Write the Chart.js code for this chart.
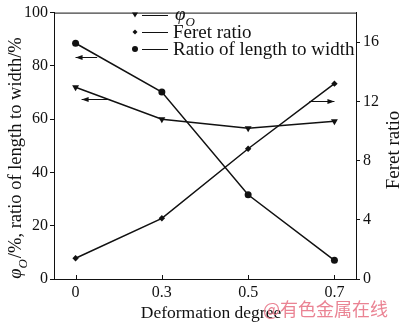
<!DOCTYPE html>
<html>
<head>
<meta charset="utf-8">
<script src="https://cdn.jsdelivr.net/npm/chart.js@4"></script>
<style>
  html, body { margin: 0; padding: 0; background: #fff; }
  #wrap { width: 400px; height: 324px; position: relative; }
</style>
</head>
<body>
<div id="wrap"><canvas id="chart" width="400" height="324"></canvas></div>
<script>
// Data
const xLabels = ['0', '0.3', '0.5', '0.7'];
const phiO = [72, 60, 56.6, 59.2];          // left axis, %
const lengthWidth = [88.5, 70.2, 31.6, 7];  // left axis, %
const feret = [1.4, 4.1, 8.8, 13.2];        // right axis
const leftTicks = [0, 20, 40, 60, 80, 100];
const rightTicks = [0, 4, 8, 12, 16];

// Axis arrows (x in category index, y in axis units)
const arrows = [
  { axis: 'y', y: 83.2, from: 0.25, to: 0.0 },
  { axis: 'y', y: 67.4, from: 0.40, to: 0.07 },
  { axis: 'y1', y: 12, from: 2.71, to: 3.0 }
];

const SERIF = "'Liberation Serif', 'Times New Roman', serif";
const INK = '#111';

const toPoints = (arr) => arr.map((v, i) => ({ x: i, y: v }));

const arrowLine = (ctx, x1, y, x2) => {
  const dir = Math.sign(x2 - x1);
  ctx.beginPath();
  ctx.moveTo(x1, y);
  ctx.lineTo(x2, y);
  ctx.stroke();
  ctx.beginPath();
  ctx.moveTo(x2, y);
  ctx.lineTo(x2 - dir * 7, y - 2.5);
  ctx.lineTo(x2 - dir * 7, y + 2.5);
  ctx.closePath();
  ctx.fill();
};

// draw "φO" + rest, with O as italic subscript
const phiLabel = (ctx, x, y, size, rest) => {
  ctx.font = `italic ${size}px ${SERIF}`;
  ctx.fillText('φ', x, y);
  x += ctx.measureText('φ').width;
  ctx.font = `italic ${Math.round(size * 0.7)}px ${SERIF}`;
  ctx.fillText('O', x, y + size * 0.3);
  x += ctx.measureText('O').width + 1;
  ctx.font = `${size}px ${SERIF}`;
  ctx.fillText(rest, x, y);
};

const phiWidth = (ctx, size, rest) => {
  ctx.font = `italic ${size}px ${SERIF}`;
  let w = ctx.measureText('φ').width;
  ctx.font = `italic ${Math.round(size * 0.7)}px ${SERIF}`;
  w += ctx.measureText('O').width + 1;
  ctx.font = `${size}px ${SERIF}`;
  return w + ctx.measureText(rest).width;
};

const extrasPlugin = {
  id: 'extras',
  afterDraw(chart) {
    const { ctx, chartArea } = chart;
    const { left, right, top, bottom } = chartArea;
    const xs = chart.scales.x;
    ctx.save();
    ctx.strokeStyle = INK;
    ctx.fillStyle = INK;
    ctx.lineWidth = 1;

    // top border
    ctx.beginPath();
    ctx.moveTo(left, top + 0.5);
    ctx.lineTo(right, top + 0.5);
    ctx.stroke();

    // inward x ticks
    xLabels.forEach((_, i) => {
      const px = Math.round(xs.getPixelForValue(i)) + 0.5;
      ctx.beginPath();
      ctx.moveTo(px, bottom);
      ctx.lineTo(px, bottom - 4);
      ctx.stroke();
    });

    // arrows
    arrows.forEach((a) => {
      const y = Math.round(chart.scales[a.axis].getPixelForValue(a.y)) + 0.5;
      arrowLine(ctx, xs.getPixelForValue(a.from), y, xs.getPixelForValue(a.to));
    });

    // legend
    const lx = 135, rows = [15, 32, 49];
    const styles = ['tri', 'dia', 'dot'];
    ctx.textBaseline = 'alphabetic';
    ctx.textAlign = 'left';
    rows.forEach((ry, k) => {
      ctx.beginPath();
      if (styles[k] === 'tri') {
        ctx.moveTo(lx - 3, ry - 2.5);
        ctx.lineTo(lx + 3, ry - 2.5);
        ctx.lineTo(lx, ry + 2.5);
      } else if (styles[k] === 'dia') {
        ctx.moveTo(lx, ry - 2.5);
        ctx.lineTo(lx + 2.5, ry);
        ctx.lineTo(lx, ry + 2.5);
        ctx.lineTo(lx - 2.5, ry);
      } else {
        ctx.arc(lx, ry, 3, 0, Math.PI * 2);
      }
      ctx.closePath();
      ctx.fill();
      ctx.beginPath();
      ctx.moveTo(142, ry + 0.5);
      ctx.lineTo(168, ry + 0.5);
      ctx.stroke();
    });
    phiLabel(ctx, 175, rows[0] + 5, 19, '');
    ctx.font = `19px ${SERIF}`;
    ctx.fillText('Feret ratio', 173, rows[1] + 6);
    ctx.fillText('Ratio of length to width', 173, rows[2] + 6);

    // left axis title (rotated)
    const rest = '/%, ratio of length to width/%';
    const tw = phiWidth(ctx, 18.5, rest);
    ctx.save();
    ctx.translate(21, 158);
    ctx.rotate(-Math.PI / 2);
    phiLabel(ctx, -tw / 2, 0, 18.5, rest);
    ctx.restore();

    // right axis title
    ctx.save();
    ctx.translate(399, 150);
    ctx.rotate(-Math.PI / 2);
    ctx.textAlign = 'center';
    ctx.font = `19px ${SERIF}`;
    ctx.fillText('Feret ratio', 0, 0);
    ctx.restore();

    // x axis title
    ctx.textAlign = 'center';
    ctx.textBaseline = 'middle';
    ctx.font = `17.5px ${SERIF}`;
    ctx.fillText('Deformation degree', 211, 313);

    // watermark
    ctx.textAlign = 'left';
    ctx.fillStyle = 'rgba(232,118,135,0.9)';
    ctx.font = "18px 'Noto Sans CJK SC', sans-serif";
    ctx.fillText('@有色金属在线', 263, 309);
    ctx.restore();
  }
};

const lineSet = (label, data, axis, style, radius, rotation) => ({
  label,
  data: toPoints(data),
  yAxisID: axis,
  borderColor: INK,
  backgroundColor: INK,
  borderWidth: 1.5,
  tension: 0,
  pointStyle: style,
  pointRadius: radius,
  pointRotation: rotation || 0,
  pointBorderWidth: 0
});

new Chart(document.getElementById('chart'), {
  type: 'line',
  data: {
    datasets: [
      lineSet('φO', phiO, 'y', 'triangle', 4, 180),
      lineSet('Feret ratio', feret, 'y1', 'rectRot', 3.2),
      lineSet('Ratio of length to width', lengthWidth, 'y', 'circle', 3.5)
    ]
  },
  options: {
    responsive: false,
    animation: false,
    layout: { padding: { top: 5, left: 0, right: 0, bottom: 0 } },
    plugins: { legend: { display: false }, tooltip: { enabled: false } },
    scales: {
      x: {
        type: 'linear',
        min: -0.25,
        max: 3.25,
        afterBuildTicks: (s) => { s.ticks = xLabels.map((_, i) => ({ value: i })); },
        afterFit: (s) => { s.height = 45; },
        grid: { display: false },
        border: { color: INK, width: 1 },
        ticks: {
          color: INK,
          padding: -4,
          font: { family: SERIF, size: 16 },
          callback: (v) => xLabels[v]
        }
      },
      y: {
        position: 'left',
        min: 0,
        max: 100,
        afterBuildTicks: (s) => { s.ticks = leftTicks.map((v) => ({ value: v })); },
        afterFit: (s) => { s.width = 54; },
        grid: { drawOnChartArea: false, tickLength: 4, color: INK },
        border: { color: INK, width: 1 },
        ticks: { color: INK, padding: 2, font: { family: SERIF, size: 16 } }
      },
      y1: {
        position: 'right',
        min: 0,
        max: 18,
        afterBuildTicks: (s) => { s.ticks = rightTicks.map((v) => ({ value: v })); },
        afterFit: (s) => { s.width = 44; },
        grid: { drawOnChartArea: false, tickLength: 4, color: INK },
        border: { color: INK, width: 1 },
        ticks: { color: INK, padding: 3, font: { family: SERIF, size: 16 } }
      }
    }
  },
  plugins: [extrasPlugin]
});
</script>
</body>
</html>
